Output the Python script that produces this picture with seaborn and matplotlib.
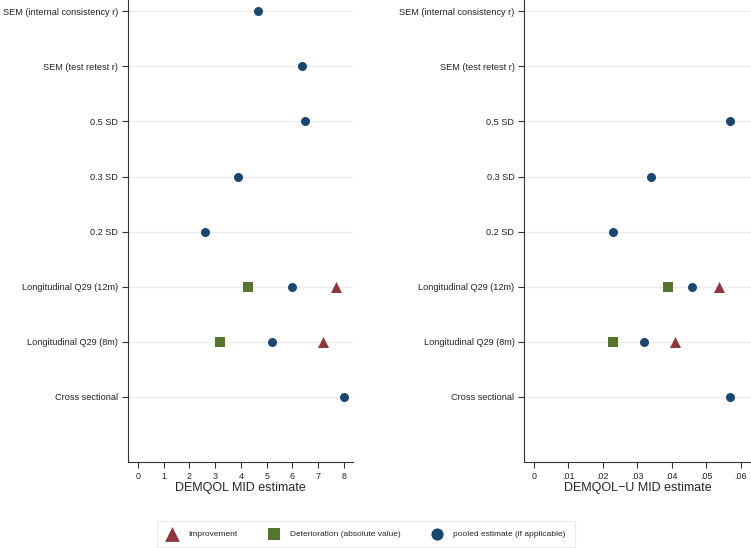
import matplotlib
matplotlib.use("Agg")
import matplotlib.pyplot as plt
import seaborn as sns
import pandas as pd

# <--- data --->
categories = [
    "Cross sectional",
    "Longitudinal Q29 (8m)",
    "Longitudinal Q29 (12m)",
    "0.2 SD",
    "0.3 SD",
    "0.5 SD",
    "SEM (test retest r)",
    "SEM (internal consistency r)",
]
improvement_cats = ["Longitudinal Q29 (8m)", "Longitudinal Q29 (12m)"]
deterioration_cats = ["Longitudinal Q29 (8m)", "Longitudinal Q29 (12m)"]

demqol_pooled = [8.0, 5.2, 6.0, 2.61, 3.9, 6.5, 6.37, 4.67]
demqol_improve = [7.2, 7.69]
demqol_deter = [3.19, 4.29]

# DEMQOL-U: no SEM estimates
demqol_u_pooled = [0.0568, 0.032, 0.046, 0.023, 0.0339, 0.0568, None, None]
demqol_u_improve = [0.0409, 0.0538]
demqol_u_deter = [0.0229, 0.0388]

series_names = ["Improvement", "Deterioration (absolute value)", "pooled estimate (if applicable)"]
colors = {"Improvement": "#90353b",
          "Deterioration (absolute value)": "#55752f",
          "pooled estimate (if applicable)": "#1a476f"}
markers = {"Improvement": "^",
           "Deterioration (absolute value)": "s",
           "pooled estimate (if applicable)": "o"}
sizes = {"Improvement": 62, "Deterioration (absolute value)": 46,
         "pooled estimate (if applicable)": 42}


def build_frame(pooled, improve, deter):
    rows = []
    for c, v in zip(improvement_cats, improve):
        rows.append((c, v, series_names[0]))
    for c, v in zip(deterioration_cats, deter):
        rows.append((c, v, series_names[1]))
    for c, v in zip(categories, pooled):
        if v is not None:
            rows.append((c, v, series_names[2]))
    df = pd.DataFrame(rows, columns=["method", "value", "series"])
    df["pos"] = df["method"].map({c: i for i, c in enumerate(categories)})
    return df


sns.set_style("white")
plt.rcParams["font.family"] = ["Liberation Sans", "DejaVu Sans"]

fig = plt.figure(figsize=(7.51, 5.48), dpi=100)
ax1 = fig.add_axes([0.170, 0.157, 0.300, 0.843])
ax2 = fig.add_axes([0.698, 0.157, 0.302, 0.843])

panels = [
    (ax1, build_frame(demqol_pooled, demqol_improve, demqol_deter),
     "DEMQOL MID estimate", (-0.4, 8.35), list(range(0, 9))),
    (ax2, build_frame(demqol_u_pooled, demqol_u_improve, demqol_u_deter),
     "DEMQOL\u2212U MID estimate", (-0.0028, 0.063), [0, .01, .02, .03, .04, .05, .06]),
]

for ax, df, xlabel, xlim, xticks in panels:
    for name in series_names:
        sub = df[df["series"] == name]
        sns.scatterplot(data=sub, x="value", y="pos", ax=ax, color=colors[name],
                        marker=markers[name], s=sizes[name], linewidth=0,
                        label=name, zorder=3)
    ax.set_yticks(range(len(categories)))
    ax.set_yticklabels(categories)
    ax.set_ylim(-1.18, 7.205)
    ax.set_xlim(*xlim)
    ax.set_xticks(xticks)
    if xlabel.startswith("DEMQOL\u2212U"):
        ax.set_xticklabels(["0" if t == 0 else f"{t:.2f}".lstrip("0") for t in xticks])
    ax.set_xlabel(xlabel, fontsize=9, labelpad=1)
    ax.set_ylabel("")
    for i in range(len(categories)):
        ax.axhline(i, color="#eaeaea", lw=0.8, zorder=1)
    sns.despine(ax=ax)
    for side in ["left", "bottom"]:
        ax.spines[side].set_color("#333333")
        ax.spines[side].set_linewidth(0.8)
    ax.tick_params(axis="y", labelsize=6.6)
    ax.tick_params(axis="x", labelsize=6.4)
    ax.tick_params(axis="both", which="both", length=4, width=0.8, color="#333333",
                   labelcolor="#222222", pad=3, left=True, bottom=True)
    ax.get_legend().remove()

handles, labels = ax1.get_legend_handles_labels()
leg = fig.legend(handles, labels, loc="center", bbox_to_anchor=(0.487, 0.025), ncol=3,
                 fontsize=6.0, frameon=True, fancybox=False, edgecolor="#e6e6e6",
                 columnspacing=3.6, handletextpad=1.2, markerscale=1.35,
                 borderpad=1.1, borderaxespad=0, handlelength=1.5)
leg.get_frame().set_linewidth(0.8)

fig.savefig("out.png", dpi=100)
